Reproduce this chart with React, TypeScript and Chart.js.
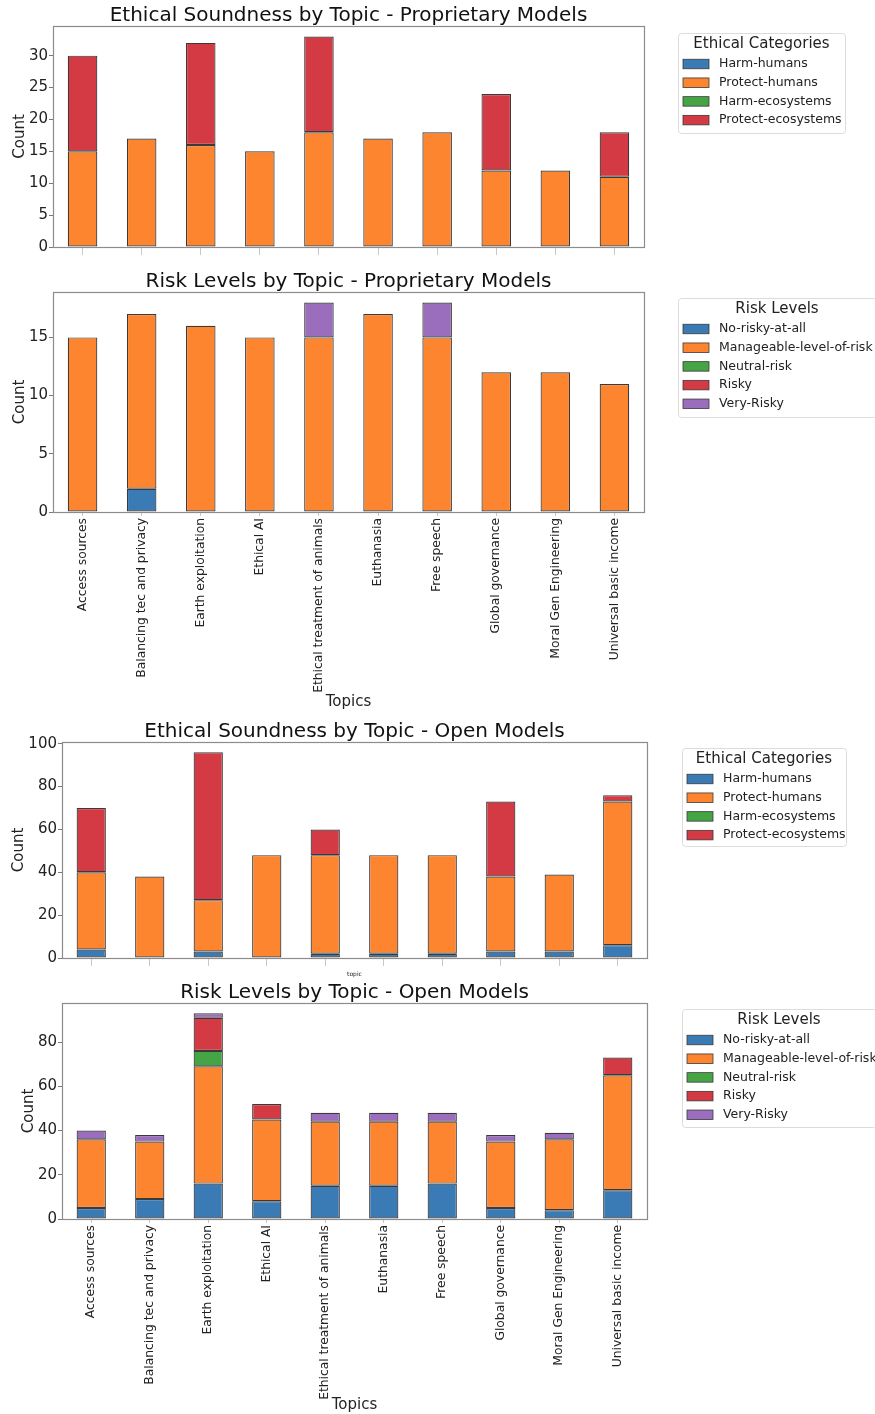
import React, { useEffect, useRef } from "react";
import { Chart, registerables } from "chart.js";

Chart.register(...registerables);

// ---- data ----
const topics = [
  "Access sources",
  "Balancing tec and privacy",
  "Earth exploitation",
  "Ethical AI",
  "Ethical treatment of animals",
  "Euthanasia",
  "Free speech",
  "Global governance",
  "Moral Gen Engineering",
  "Universal basic income",
];

const ethicalCategories = ["Harm-humans", "Protect-humans", "Harm-ecosystems", "Protect-ecosystems"];
const riskLevels = ["No-risky-at-all", "Manageable-level-of-risk", "Neutral-risk", "Risky", "Very-Risky"];

// Proprietary models – ethical soundness
const propHarmHumans = [0, 0, 0, 0, 0, 0, 0, 0, 0, 0];
const propProtectHumans = [15, 17, 16, 15, 18, 17, 18, 12, 12, 11];
const propHarmEcosystems = [0, 0, 0, 0, 0, 0, 0, 0, 0, 0];
const propProtectEcosystems = [15, 0, 16, 0, 15, 0, 0, 12, 0, 7];

// Proprietary models – risk levels
const propNoRisk = [0, 2, 0, 0, 0, 0, 0, 0, 0, 0];
const propManageable = [15, 15, 16, 15, 15, 17, 15, 12, 12, 11];
const propNeutral = [0, 0, 0, 0, 0, 0, 0, 0, 0, 0];
const propRisky = [0, 0, 0, 0, 0, 0, 0, 0, 0, 0];
const propVeryRisky = [0, 0, 0, 0, 3, 0, 3, 0, 0, 0];

// Open models – ethical soundness
const openHarmHumans = [4, 0, 3, 0, 2, 2, 2, 3, 3, 6];
const openProtectHumans = [36, 38, 24, 48, 46, 46, 46, 35, 36, 67];
const openHarmEcosystems = [0, 0, 0, 0, 0, 0, 0, 0, 0, 0];
const openProtectEcosystems = [30, 0, 69, 0, 12, 0, 0, 35, 0, 3];

// Open models – risk levels
const openNoRisk = [5, 9, 16, 8, 15, 15, 16, 5, 4, 13];
const openManageable = [31, 26, 53, 37, 29, 29, 28, 30, 32, 52];
const openNeutral = [0, 0, 7, 0, 0, 0, 0, 0, 0, 0];
const openRisky = [0, 0, 15, 7, 0, 0, 0, 0, 0, 8];
const openVeryRisky = [4, 3, 2, 0, 4, 4, 4, 3, 3, 0];

const palette = ["#3a7ab5", "#fd8530", "#45a545", "#d43a43", "#9a6dbd"];

const FONT = "'DejaVu Sans', sans-serif";
const TEXT = "#222222";
const FRAME = "#8c8c8c";
const EDGE = "#3a3a3a";

// Draws the full axes frame and a boxed legend next to the plot.
const frameAndLegend = {
  id: "frameAndLegend",
  afterDraw(chart: any, _args: any, opts: any) {
    const ctx = chart.ctx as CanvasRenderingContext2D;
    const { left, top, right, bottom } = chart.chartArea;
    ctx.save();
    ctx.strokeStyle = FRAME;
    ctx.lineWidth = 1.2;
    ctx.strokeRect(Math.round(left) + 0.5, Math.round(top) + 0.5, Math.round(right - left), Math.round(bottom - top));

    const box = opts.box;
    if (box) {
      ctx.beginPath();
      (ctx as any).roundRect(box.left + 0.5, box.top + 0.5, box.width, box.height, 3);
      ctx.fillStyle = "rgba(255,255,255,0.9)";
      ctx.fill();
      ctx.strokeStyle = "#dcdcdc";
      ctx.lineWidth = 1;
      ctx.stroke();

      ctx.fillStyle = TEXT;
      ctx.textAlign = "center";
      ctx.textBaseline = "middle";
      ctx.font = `15px ${FONT}`;
      ctx.fillText(opts.title, box.left + box.width / 2, box.top + 11);

      ctx.textAlign = "left";
      ctx.font = `12.5px ${FONT}`;
      chart.data.datasets.forEach((ds: any, i: number) => {
        const cy = box.top + 31 + i * 18.7;
        ctx.fillStyle = ds.backgroundColor;
        ctx.fillRect(box.left + 5, cy - 4.75, 26, 9.5);
        ctx.strokeStyle = EDGE;
        ctx.lineWidth = 0.8;
        ctx.strokeRect(box.left + 5, cy - 4.75, 26, 9.5);
        ctx.fillStyle = TEXT;
        ctx.fillText(ds.label, box.left + 41, cy);
      });
    }
    ctx.restore();
  },
};

type PanelProps = {
  top: number;
  height: number;
  title: string;
  labels: string[];
  series: number[][];
  legendTitle: string;
  legendBox: { left: number; top: number; width: number; height: number };
  yMax: number;
  yStep: number;
  yAxisWidth: number;
  yTitlePad: number;
  xAxisHeight: number;
  showXLabels: boolean;
  xTitle?: string;
  xTitleSize?: number;
  xTitlePad?: number;
  xTickLength: number;
  padTop: number;
  padRight: number;
};

function Panel(p: PanelProps) {
  const ref = useRef<HTMLCanvasElement | null>(null);

  useEffect(() => {
    if (!ref.current) return;
    const chart = new Chart(ref.current, {
      type: "bar",
      data: {
        labels: topics,
        datasets: p.labels.map((lab, i) => ({
          label: lab,
          data: p.series[i],
          backgroundColor: palette[i],
          borderColor: EDGE,
          borderWidth: 1.2,
          borderSkipped: false,
          inflateAmount: 0,
          barPercentage: 0.5,
          categoryPercentage: 1,
        })),
      },
      options: {
        responsive: false,
        animation: false,
        devicePixelRatio: 1,
        events: [],
        layout: { padding: { left: 0, right: p.padRight, top: p.padTop, bottom: 0 } },
        plugins: {
          legend: { display: false },
          tooltip: { enabled: false },
          title: {
            display: true,
            text: p.title,
            fullSize: false,
            color: "#111111",
            font: { family: FONT, size: 20, weight: "normal", lineHeight: 1 },
            padding: 0,
          },
          frameAndLegend: { box: p.legendBox, title: p.legendTitle },
        } as any,
        scales: {
          x: {
            stacked: true,
            offset: true,
            border: { display: false },
            grid: {
              display: true,
              offset: false,
              drawOnChartArea: false,
              drawTicks: true,
              tickLength: p.xTickLength,
              color: "#c8c8c8",
            },
            ticks: {
              display: p.showXLabels,
              autoSkip: false,
              minRotation: 90,
              maxRotation: 90,
              padding: 2,
              color: TEXT,
              font: { family: FONT, size: 12.3 },
            },
            title: {
              display: !!p.xTitle,
              text: p.xTitle || "",
              color: TEXT,
              font: { family: FONT, size: p.xTitleSize || 15, lineHeight: 1 },
              padding: { top: 0, bottom: p.xTitlePad || 0 },
            },
            afterFit: (scale: any) => {
              scale.height = p.xAxisHeight;
            },
          },
          y: {
            stacked: true,
            min: 0,
            max: p.yMax,
            border: { display: false },
            grid: {
              display: true,
              drawOnChartArea: false,
              drawTicks: true,
              tickLength: 4,
              color: "#7a7a7a",
            },
            ticks: {
              stepSize: p.yStep,
              includeBounds: false,
              padding: 1,
              color: TEXT,
              font: { family: FONT, size: 15 },
            },
            title: {
              display: true,
              text: "Count",
              color: TEXT,
              font: { family: FONT, size: 15, lineHeight: 1 },
              padding: { top: p.yTitlePad, bottom: 0 },
            },
            afterFit: (scale: any) => {
              scale.width = p.yAxisWidth;
            },
          },
        },
      },
      plugins: [frameAndLegend as any],
    });
    return () => chart.destroy();
  }, []);

  return (
    <div style={{ position: "absolute", left: 0, top: p.top, width: 875, height: p.height }}>
      <canvas ref={ref} width={875} height={p.height} style={{ display: "block", width: 875, height: p.height }} />
    </div>
  );
}

export default function App() {
  const propEthicalMax = Math.max(...topics.map((_, i) => propHarmHumans[i] + propProtectHumans[i] + propHarmEcosystems[i] + propProtectEcosystems[i])) * 1.05;
  const propRiskMax = Math.max(...topics.map((_, i) => propNoRisk[i] + propManageable[i] + propNeutral[i] + propRisky[i] + propVeryRisky[i])) * 1.05;
  const openEthicalMax = Math.max(...topics.map((_, i) => openHarmHumans[i] + openProtectHumans[i] + openHarmEcosystems[i] + openProtectEcosystems[i])) * 1.05;
  const openRiskMax = Math.max(...topics.map((_, i) => openNoRisk[i] + openManageable[i] + openNeutral[i] + openRisky[i] + openVeryRisky[i])) * 1.05;

  return (
    <div style={{ position: "absolute", left: 0, top: 0, width: 875, height: 1414, background: "#ffffff", overflow: "hidden" }}>
      <Panel
        top={0}
        height={262}
        title="Ethical Soundness by Topic - Proprietary Models"
        labels={ethicalCategories}
        series={[propHarmHumans, propProtectHumans, propHarmEcosystems, propProtectEcosystems]}
        legendTitle="Ethical Categories"
        legendBox={{ left: 678, top: 33, width: 167, height: 100 }}
        yMax={propEthicalMax}
        yStep={5}
        yAxisWidth={53}
        yTitlePad={13}
        xAxisHeight={15}
        showXLabels={false}
        xTickLength={8}
        padTop={6}
        padRight={231}
      />
      <Panel
        top={262}
        height={450}
        title="Risk Levels by Topic - Proprietary Models"
        labels={riskLevels}
        series={[propNoRisk, propManageable, propNeutral, propRisky, propVeryRisky]}
        legendTitle="Risk Levels"
        legendBox={{ left: 678, top: 36, width: 198, height: 119 }}
        yMax={propRiskMax}
        yStep={5}
        yAxisWidth={53}
        yTitlePad={12.2}
        xAxisHeight={200}
        showXLabels={true}
        xTitle="Topics"
        xTitleSize={15}
        xTitlePad={2.5}
        xTickLength={4}
        padTop={10}
        padRight={231}
      />
      <Panel
        top={712}
        height={270}
        title="Ethical Soundness by Topic - Open Models"
        labels={ethicalCategories}
        series={[openHarmHumans, openProtectHumans, openHarmEcosystems, openProtectEcosystems]}
        legendTitle="Ethical Categories"
        legendBox={{ left: 682, top: 36, width: 164, height: 98 }}
        yMax={openEthicalMax}
        yStep={20}
        yAxisWidth={62}
        yTitlePad={11.5}
        xAxisHeight={24}
        showXLabels={false}
        xTitle="topic"
        xTitleSize={6}
        xTitlePad={5}
        xTickLength={8}
        padTop={10}
        padRight={228}
      />
      <Panel
        top={982}
        height={432}
        title="Risk Levels by Topic - Open Models"
        labels={riskLevels}
        series={[openNoRisk, openManageable, openNeutral, openRisky, openVeryRisky]}
        legendTitle="Risk Levels"
        legendBox={{ left: 682, top: 27, width: 194, height: 118 }}
        yMax={openRiskMax}
        yStep={20}
        yAxisWidth={62}
        yTitlePad={21.5}
        xAxisHeight={195}
        showXLabels={true}
        xTitle="Topics"
        xTitleSize={15}
        xTitlePad={1.5}
        xTickLength={4}
        padTop={1}
        padRight={228}
      />
    </div>
  );
}
